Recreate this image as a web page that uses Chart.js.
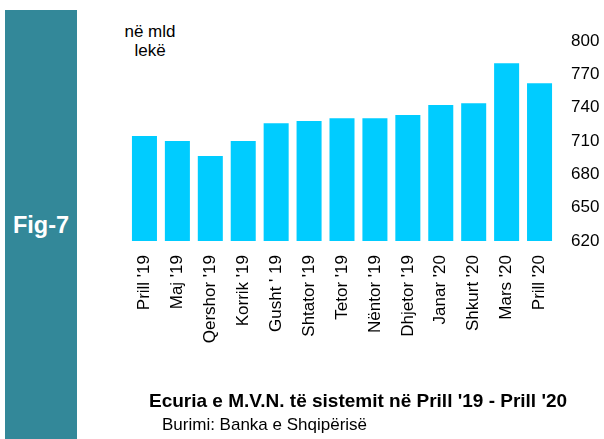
<!DOCTYPE html>
<html>
<head>
<meta charset="utf-8">
<script src="https://cdn.jsdelivr.net/npm/chart.js@4.4.0/dist/chart.umd.min.js"></script>
<style>
  html, body { margin: 0; padding: 0; background: #fff; }
  body { width: 604px; height: 439px; position: relative; overflow: hidden;
         font-family: "Liberation Sans", Arial, sans-serif; color: #000; }
  #side { position: absolute; left: 5px; top: 10px; width: 72px; height: 429px; background: #338899; }
  #fig { position: absolute; left: 5px; width: 72px; top: 212px; text-align: center;
         color: #fff; font-weight: bold; font-size: 23.5px; }
  #unit { position: absolute; left: 100px; width: 100px; top: 22px; text-align: center;
          font-size: 17px; line-height: 19px; }
  #title { position: absolute; left: 149px; top: 390px; font-weight: bold; font-size: 19px; white-space: nowrap; }
  #source { position: absolute; left: 162px; top: 415px; font-size: 17px; white-space: nowrap; }
  canvas { position: absolute; left: 0; top: 0; }
</style>
</head>
<body>
<div id="side"></div>
<div id="fig">Fig-7</div>
<div id="unit">në mld<br>lekë</div>
<canvas id="chart" width="604" height="439"></canvas>
<div id="title">Ecuria e M.V.N. të sistemit në Prill '19 - Prill '20</div>
<div id="source">Burimi: Banka e Shqipërisë</div>
<script>
const months = ["Prill '19", "Maj '19", "Qershor '19", "Korrik '19", "Gusht ' 19", "Shtator '19",
  "Tetor '19", "Nëntor '19", "Dhjetor '19", "Janar '20", "Shkurt '20", "Mars '20", "Prill '20"];
const mvn = [714.5, 710, 696.5, 710, 726, 728, 730.5, 730.5, 733.5, 742.5, 744, 780, 762];
const yTicks = [620, 650, 680, 710, 740, 770, 800];

new Chart(document.getElementById("chart"), {
  type: "bar",
  data: {
    labels: months,
    datasets: [{
      data: mvn,
      backgroundColor: "#00CCFF",
      barPercentage: 0.76,
      categoryPercentage: 1
    }]
  },
  options: {
    responsive: false,
    animation: false,
    layout: { padding: { left: 128, top: 41, right: 0, bottom: 88 } },
    plugins: { legend: { display: false }, tooltip: { enabled: false } },
    scales: {
      x: {
        grid: { display: false, drawTicks: false },
        border: { display: false },
        ticks: {
          color: "#000", font: { family: "Liberation Sans", size: 17 },
          minRotation: 90, maxRotation: 90, autoSkip: false, padding: 14
        },
        afterFit: s => { s.height = 110; }
      },
      y: {
        position: "right",
        min: yTicks[0],
        max: yTicks[yTicks.length - 1],
        grid: { display: false, drawTicks: false },
        border: { display: false },
        ticks: {
          stepSize: yTicks[1] - yTicks[0],
          color: "#000", font: { family: "Liberation Sans", size: 17 }, padding: 15
        },
        afterFit: s => { s.width = 48; }
      }
    }
  }
});
</script>
</body>
</html>
